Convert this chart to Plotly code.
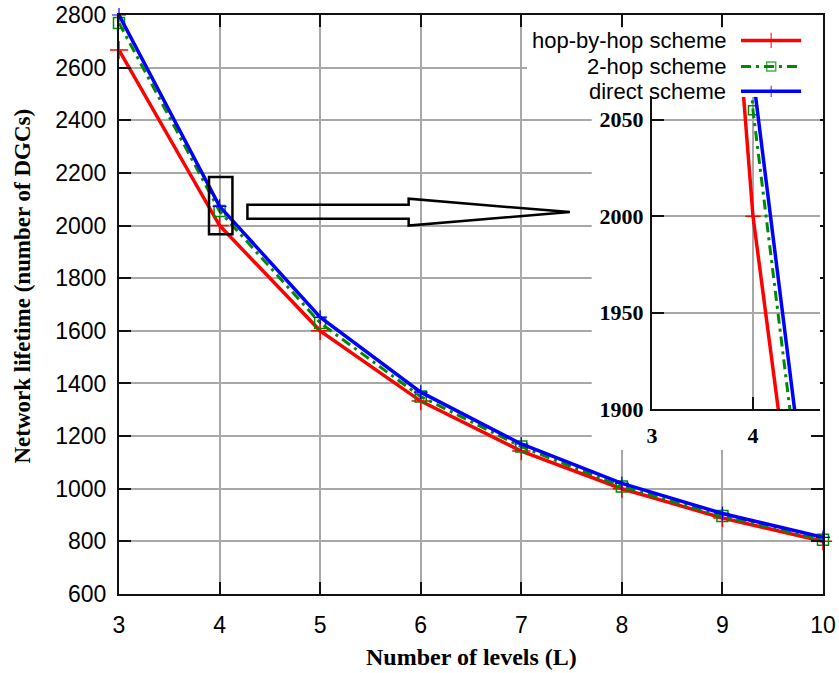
import plotly.graph_objects as go

# Number of levels L and network lifetime (number of DGCs) per scheme
levels = [3, 4, 5, 6, 7, 8, 9, 10]
hop_by_hop = [2667, 2000, 1600, 1333, 1143, 1000, 889, 800]
two_hop = [2770, 2055, 1630, 1350, 1160, 1008, 896, 806]
direct = [2800, 2073, 1652, 1367, 1170, 1020, 906, 815]

series_names = ["hop-by-hop scheme", "2-hop scheme", "direct scheme"]
series_values = [hop_by_hop, two_hop, direct]
series_colors = ["#ff0000", "#008a00", "#0000ff"]
series_dash = ["solid", "10px,5px,3px,5px", "solid"]
series_symbols = ["cross-thin-open", "square-open", "cross-thin-open"]
series_widths = [3.5, 3, 3.5]
marker_sizes = [13, 11, 10]
marker_line_widths = [1.5, 1.5, 1.2]

x_ticks = [3, 4, 5, 6, 7, 8, 9, 10]
y_ticks = [600, 800, 1000, 1200, 1400, 1600, 1800, 2000, 2200, 2400, 2600, 2800]
inset_x_ticks = [3, 4]
inset_y_ticks = [1900, 1950, 2000, 2050]

GRID = "#a8a8a8"
AXIS = "#111111"
SANS = "Liberation Sans, Arial, sans-serif"
SERIF = "Liberation Serif, Times New Roman, serif"

fig = go.Figure()

styles = list(zip(series_names, series_values, series_colors, series_dash,
                  series_symbols, series_widths, marker_sizes, marker_line_widths))

# main curves
for name, vals, col, dash, sym, w, ms, mlw in styles:
    fig.add_trace(go.Scatter(
        x=levels, y=vals, name=name, mode="lines+markers",
        line=dict(color=col, width=w, dash=dash),
        marker=dict(symbol=sym, size=ms, color=col, line=dict(color=col, width=mlw)),
        cliponaxis=False, showlegend=False, xaxis="x", yaxis="y"))

# zoomed inset around L = 4
for name, vals, col, dash, sym, w, ms, mlw in styles:
    fig.add_trace(go.Scatter(
        x=levels, y=vals, name=name, mode="lines+markers",
        line=dict(color=col, width=w, dash=dash),
        marker=dict(symbol=sym, size=ms - 2, color=col, line=dict(color=col, width=mlw)),
        showlegend=False, xaxis="x2", yaxis="y2"))

# key: text on the left, sample line with a centred marker on the right
key_rows = [0.816, 0.439, 0.077]
key_line_x = [0.723, 0.825, 0.926]
for (name, vals, col, dash, sym, w, ms, mlw), ry in zip(styles, key_rows):
    fig.add_trace(go.Scatter(
        x=key_line_x, y=[ry, ry, ry], mode="lines+markers",
        line=dict(color=col, width=w, dash=dash),
        marker=dict(symbol=sym, size=[0, ms - 2, 0], color=col, line=dict(color=col, width=mlw)),
        cliponaxis=False, showlegend=False, hoverinfo="skip", xaxis="x3", yaxis="y3"))
    fig.add_annotation(x=0.68, y=ry, xref="x3", yref="y3", text=name, showarrow=False,
                       xanchor="right", yanchor="middle",
                       font=dict(family=SANS, size=22, color="#000000"))

axis_common = dict(showgrid=True, gridcolor=GRID, gridwidth=1.5, showline=True,
                   linecolor=AXIS, linewidth=2, ticks="inside", ticklen=12, tickwidth=2,
                   tickcolor=AXIS, zeroline=False, automargin=False)

fig.update_layout(
    width=839, height=673, autosize=False,
    margin=dict(l=119, r=16, t=15, b=79, autoexpand=False),
    showlegend=False,
    paper_bgcolor="white", plot_bgcolor="white",
    xaxis=dict(domain=[0, 1], range=[3, 10], tickvals=x_ticks, mirror="ticks",
               tickfont=dict(family=SANS, size=23, color="#000000"), ticklabelstandoff=9,
               **axis_common),
    yaxis=dict(domain=[0, 1], range=[600, 2800], tickvals=y_ticks, mirror="ticks",
               tickfont=dict(family=SANS, size=23, color="#000000"), ticklabelstandoff=6,
               **axis_common),
    xaxis2=dict(domain=[0.757, 0.9957], anchor="y2", range=[3, 4.663], tickvals=inset_x_ticks,
                mirror=False, tickfont=dict(family=SERIF, size=22, color="#000000", weight="bold"),
                ticklabelstandoff=6, **axis_common),
    yaxis2=dict(domain=[0.3197, 0.859], anchor="x2", range=[1900, 2062], tickvals=inset_y_ticks,
                mirror=False, tickfont=dict(family=SERIF, size=22, color="#000000", weight="bold"),
                ticklabelstandoff=2, **axis_common),
    xaxis3=dict(domain=[0.5795, 1.0], anchor="y3", range=[0, 1], visible=False,
                fixedrange=True, automargin=False),
    yaxis3=dict(domain=[0.859, 0.978], anchor="x3", range=[0, 1], visible=False,
                fixedrange=True, automargin=False),
)

# axis titles
fig.add_annotation(x=0.5, y=-0.109, xref="paper", yref="paper", text="<b>Number of levels (L)</b>",
                   showarrow=False, xanchor="center", yanchor="middle",
                   font=dict(family=SERIF, size=24, color="#000000"))
fig.add_annotation(x=-0.137, y=0.532, xref="paper", yref="paper",
                   text="<b>Network lifetime (number of DGCs)</b>", textangle=-90,
                   showarrow=False, xanchor="center", yanchor="middle",
                   font=dict(family=SERIF, size=23, color="#000000"))

# opaque panels behind the inset labels and the key
fig.add_shape(type="rect", xref="x", yref="y", x0=7.70, x1=10, y0=1147, y1=2490,
              fillcolor="white", line=dict(width=0), layer="between")
fig.add_shape(type="rect", xref="x", yref="y", x0=7.06, x1=10, y0=2490, y1=2752,
              fillcolor="white", line=dict(width=0), layer="between")

# zoom box around L = 4 and the arrow pointing to the inset
fig.add_shape(type="rect", xref="x", yref="y", x0=3.895, x1=4.128, y0=1967, y1=2184,
              line=dict(color="#000000", width=2.5), fillcolor="rgba(0,0,0,0)", layer="above")
fig.add_shape(type="path", xref="x", yref="y",
              path="M 4.277,2079 L 5.88,2079 L 5.88,2102 L 7.483,2051 L 5.88,2000 "
                   "L 5.88,2026 L 4.277,2026 Z",
              line=dict(color="#000000", width=2.5), fillcolor="rgba(0,0,0,0)", layer="above")

fig.write_html("out.html")
